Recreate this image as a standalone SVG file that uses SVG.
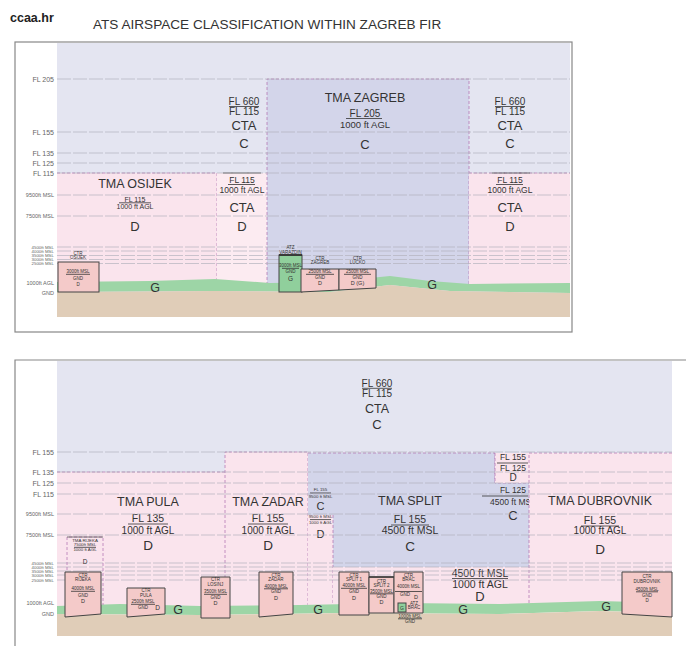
<svg xmlns="http://www.w3.org/2000/svg" width="686" height="646" viewBox="0 0 686 646">
<style>
text{font-family:"Liberation Sans",Arial,sans-serif;fill:#333;text-anchor:middle}
.ax{text-anchor:end;fill:#666}
.f4{font-size:4.5px}.f5{font-size:5.5px}.fs{font-size:4.4px}.f7{font-size:7px}.f8{font-size:8.5px}.f10{font-size:10px}.f105{font-size:10.5px}.f12{font-size:12.5px}.f13{font-size:13px}.f135{font-size:13.5px}
.grid{stroke:#b3b3bd;stroke-width:0.7;stroke-dasharray:14 2;fill:none}
.bd{fill:none;stroke:#b57ab5;stroke-width:0.8;stroke-dasharray:3 2}
.bar{stroke:#333;stroke-width:0.8}
.ctr{fill:#f4cac9;stroke:#444;stroke-width:1}
.atz{fill:#90cf9c;stroke:#444;stroke-width:1}
.lav{fill:#e4e5f1}.dlav{fill:#d3d5ea}.pink{fill:#fae4ed}.pink2{fill:#fcebf1}
.green{fill:#9dd5a6}.tan{fill:#e0cdb8}
</style>
<rect width="686" height="646" fill="#fff"/>
<text x="10" y="22" style="font-size:12.5px;font-weight:bold;text-anchor:start;fill:#222">ccaa.hr</text>
<text x="93" y="29" style="font-size:13.6px;text-anchor:start;fill:#333">ATS AIRSPACE CLASSIFICATION WITHIN ZAGREB FIR</text>

<!-- ===== TOP PANEL ===== -->
<g id="top-frame">
<rect x="15" y="42" width="557" height="290" fill="#fff" stroke="#888" stroke-width="1.2"/>
<rect x="57" y="43" width="513" height="250" class="lav"/>
</g>
<g id="tma-osijek">
<rect x="57" y="173" width="160" height="112" class="pink"/>
<path d="M57 173H217V285" class="bd"/>
<text x="135" y="187.5" class="f12">TMA OSIJEK</text>
<text x="135" y="201.5" class="f7">FL 115</text>
<line x1="119" y1="202.8" x2="151" y2="202.8" class="bar"/>
<text x="135" y="208.8" class="f7">1000 ft AGL</text>
<text x="135" y="231" class="f13">D</text>
</g>
<g id="cta-west-lower">
<rect x="217" y="173" width="50" height="112" class="pink2"/>
<line x1="223" y1="173" x2="261" y2="173" class="bar"/>
<text x="242" y="182.5" class="f8">FL 115</text>
<line x1="228" y1="184.5" x2="255" y2="184.5" class="bar"/>
<text x="242" y="193.3" class="f8">1000 ft AGL</text>
<text x="242" y="212" class="f13">CTA</text>
<text x="242" y="231" class="f13">D</text>
</g>
<g id="cta-west-upper">
<text x="244" y="104.5" class="f10">FL 660</text>
<line x1="229" y1="106.5" x2="259" y2="106.5" class="bar"/>
<text x="244" y="114.8" class="f10">FL 115</text>
<text x="244" y="130" class="f13">CTA</text>
<text x="244" y="148" class="f13">C</text>
</g>
<g id="tma-zagreb">
<rect x="267" y="79" width="202" height="206" class="dlav"/>
<path d="M267 285V79H469V285" class="bd"/>
<text x="365" y="101.5" class="f12">TMA ZAGREB</text>
<text x="365" y="116.5" class="f10">FL 205</text>
<line x1="346" y1="118.5" x2="382" y2="118.5" class="bar"/>
<text x="365" y="127.5" style="font-size:9.5px">1000 ft AGL</text>
<text x="365" y="148.5" class="f13">C</text>
</g>
<g id="cta-east-upper">
<text x="510" y="104.5" class="f10">FL 660</text>
<line x1="495" y1="106.5" x2="525" y2="106.5" class="bar"/>
<text x="510" y="114.8" class="f10">FL 115</text>
<text x="510" y="130" class="f13">CTA</text>
<text x="510" y="148" class="f13">C</text>
</g>
<g id="cta-east-lower">
<rect x="469" y="173" width="101" height="112" class="pink"/>
<path d="M469 173H570" class="bd"/>
<line x1="492" y1="173" x2="530" y2="173" class="bar"/>
<text x="510" y="182.5" class="f8">FL 115</text>
<line x1="496" y1="184.5" x2="523" y2="184.5" class="bar"/>
<text x="510" y="193.3" class="f8">1000 ft AGL</text>
<text x="510" y="212" class="f13">CTA</text>
<text x="510" y="231" class="f13">D</text>
</g>
<g id="top-grid">
<path class="grid" d="M57 79H570M57 132H570M57 153H570M57 163H570M57 173H570M57 195H570M57 216H570M57 247H570M57 251H570M57 255.5H570M57 259.5H570M57 263.5H570"/>
</g>
<g id="top-axis">
<text x="54" y="81.5" class="ax f7">FL 205</text>
<text x="54" y="134.5" class="ax f7">FL 155</text>
<text x="54" y="155.5" class="ax f7">FL 135</text>
<text x="54" y="165.5" class="ax f7">FL 125</text>
<text x="54" y="175.5" class="ax f7">FL 115</text>
<text x="54" y="197" class="ax f5">9500ft MSL</text>
<text x="54" y="218" class="ax f5">7500ft MSL</text>
<text x="54" y="248.5" class="ax fs">4500ft MSL</text>
<text x="54" y="252.6" class="ax fs">4000ft MSL</text>
<text x="54" y="256.8" class="ax fs">3500ft MSL</text>
<text x="54" y="261" class="ax fs">3000ft MSL</text>
<text x="54" y="265.2" class="ax fs">2500ft MSL</text>
<text x="54" y="285" class="ax f5">1000ft AGL</text>
<text x="54" y="295" class="ax f5">GND</text>
</g>
<g id="top-terrain">
<polygon class="green" points="57,282 150,281 215,279 270,283 330,282 390,276 430,281 470,284 570,283 570,293 450,291 390,285 330,292 215,291 57,292"/>
<polygon class="tan" points="57,292 215,291 330,292 390,285 450,291 570,293 570,317 57,317"/>
<text x="155" y="291.5" class="f12">G</text>
<text x="432" y="289" class="f12">G</text>
</g>
<g id="ctr-osijek">
<rect x="58" y="262" width="41" height="30" class="ctr"/>
<text x="78" y="254.5" class="f4">CTR</text>
<text x="78" y="259" class="f4">OSIJEK</text>
<text x="78" y="273" class="f4">3000ft MSL</text>
<line x1="66" y1="274.3" x2="90" y2="274.3" class="bar" stroke-width="0.6"/>
<text x="78" y="279.5" class="f4">GND</text>
<text x="78" y="286" class="f4">D</text>
</g>
<g id="atz-varazdin">
<rect x="279" y="255" width="23" height="37" class="atz"/>
<line x1="279" y1="255" x2="302" y2="255" stroke="#333" stroke-width="1.8"/>
<text x="290.5" y="249" class="f4">ATZ</text>
<text x="290.5" y="253.5" class="f4">VARAZDIN</text>
<text x="290.5" y="267" class="f4">3000ft MSL</text>
<line x1="282" y1="268.3" x2="299" y2="268.3" class="bar" stroke-width="0.6"/>
<text x="290.5" y="273" class="f4">GND</text>
<text x="290.5" y="281" style="font-size:6.5px">G</text>
</g>
<g id="ctr-zagreb">
<polygon class="ctr" points="301,269 339,269 339,290 301,292"/>
<text x="320" y="259.5" class="f4">CTR</text>
<text x="320" y="264" class="f4">ZAGREB</text>
<text x="320" y="273" class="f4">2500ft MSL</text>
<line x1="306" y1="274.3" x2="334" y2="274.3" class="bar" stroke-width="0.6"/>
<text x="320" y="279" class="f4">GND</text>
<text x="320" y="285" style="font-size:5.5px">D</text>
</g>
<g id="ctr-lucko">
<polygon class="ctr" points="339,269 376,269 376,288 339,290"/>
<text x="357.5" y="259.5" class="f4">CTR</text>
<text x="357.5" y="264" class="f4">LUCKO</text>
<text x="357.5" y="273" class="f4">2500ft MSL</text>
<line x1="344" y1="274.3" x2="371" y2="274.3" class="bar" stroke-width="0.6"/>
<text x="357.5" y="279" class="f4">GND</text>
<text x="357.5" y="285" style="font-size:5.5px">D (G)</text>
</g>

<!-- ===== BOTTOM PANEL ===== -->
<g id="bottom-frame">
<path d="M15 646V360H686" fill="none" stroke="#888" stroke-width="1.2"/>
<rect x="57" y="361" width="615" height="250" class="lav"/>
</g>
<g id="cta-upper">
<text x="377" y="386.5" class="f10">FL 660</text>
<line x1="362" y1="388.3" x2="392" y2="388.3" class="bar"/>
<text x="377" y="396.8" class="f10">FL 115</text>
<text x="377" y="412.5" class="f12">CTA</text>
<text x="377" y="428.5" class="f13">C</text>
</g>
<g id="tma-pula">
<rect x="57" y="472" width="168" height="136" class="pink"/>
<path d="M57 472H225" class="bd"/>
<text x="148" y="505.5" class="f12">TMA PULA</text>
<text x="148" y="521.5" class="f105">FL 135</text>
<line x1="128" y1="524" x2="168" y2="524" class="bar"/>
<text x="148" y="533.5" class="f10">1000 ft AGL</text>
<text x="148" y="550" class="f135">D</text>
</g>
<g id="tma-zadar">
<rect x="225" y="452" width="83" height="156" class="pink"/>
<path d="M225 608V452H308V608" class="bd"/>
<text x="268" y="505.5" class="f12">TMA ZADAR</text>
<text x="268" y="521.5" class="f105">FL 155</text>
<line x1="248" y1="524" x2="288" y2="524" class="bar"/>
<text x="268" y="533.5" class="f10">1000 ft AGL</text>
<text x="268" y="550" class="f135">D</text>
</g>
<g id="tma-split">
<path d="M308 453H495V483H529V567H333V515H308Z" class="dlav"/>
<path d="M308 453H495V483H529" class="bd"/>
<text x="410" y="504.5" class="f12">TMA SPLIT</text>
<text x="410" y="522.5" class="f105">FL 155</text>
<line x1="391" y1="525" x2="429" y2="525" class="bar"/>
<text x="410" y="533.5" class="f105">4500 ft MSL</text>
<text x="410" y="551" class="f135">C</text>
<text x="513" y="493" class="f8">FL 125</text>
<line x1="482" y1="496" x2="528" y2="496" class="bar"/>
<text x="513" y="505" class="f8">4500 ft MSL</text>
<text x="513" y="519.5" class="f13">C</text>
</g>
<g id="split-slice">
<rect x="308" y="515" width="25" height="93" class="pink"/>
<line x1="333" y1="515" x2="333" y2="608" class="bd"/>
<text x="320.5" y="491" class="fs">FL 155</text>
<line x1="310" y1="493" x2="331" y2="493" class="bar" stroke-width="0.6"/>
<text x="320.5" y="497.8" class="fs">9500 ft MSL</text>
<text x="320.5" y="509.5" style="font-size:11px">C</text>
<text x="320.5" y="518.3" class="fs">9500 ft MSL</text>
<line x1="310" y1="519.6" x2="331" y2="519.6" class="bar" stroke-width="0.6"/>
<text x="320.5" y="524.3" class="fs">1000 ft AGL</text>
<text x="320.5" y="538" style="font-size:11px">D</text>
</g>
<g id="split-lower">
<rect x="333" y="567" width="196" height="41" class="pink"/>
<text x="480" y="576.5" class="f105">4500 ft MSL</text>
<line x1="452" y1="578.5" x2="508" y2="578.5" class="bar"/>
<text x="480" y="587.5" class="f105">1000 ft AGL</text>
<text x="480" y="600.5" class="f13">D</text>
</g>
<g id="split-east-upper">
<rect x="495" y="453" width="34" height="30" class="pink"/>
<line x1="495" y1="453" x2="495" y2="483" class="bd"/>
<text x="513" y="460" class="f8">FL 155</text>
<line x1="497" y1="463" x2="528" y2="463" class="bar"/>
<text x="513" y="471" class="f8">FL 125</text>
<text x="513" y="480.5" class="f10">D</text>
</g>
<g id="tma-dubrovnik">
<rect x="529" y="453" width="143" height="155" class="pink"/>
<path d="M529 608V453H672" class="bd"/>
<text x="600" y="504.5" class="f12" textLength="104">TMA DUBROVNIK</text>
<text x="600" y="523.5" class="f105">FL 155</text>
<line x1="581" y1="526" x2="619" y2="526" class="bar"/>
<text x="600" y="533.5" class="f10">1000 ft AGL</text>
<text x="600" y="553.5" class="f135">D</text>
</g>
<g id="bottom-grid">
<path class="grid" d="M57 452H672M57 472H672M57 483H672M57 494H672M57 514H672M57 535H672M57 563H672M57 567H672M57 571H672M57 575H672M57 580H672"/>
</g>
<g id="bottom-axis">
<text x="54" y="454.5" class="ax f7">FL 155</text>
<text x="54" y="474.5" class="ax f7">FL 135</text>
<text x="54" y="485.5" class="ax f7">FL 125</text>
<text x="54" y="496.5" class="ax f7">FL 115</text>
<text x="54" y="516" class="ax f5">9500ft MSL</text>
<text x="54" y="537" class="ax f5">7500ft MSL</text>
<text x="54" y="564.5" class="ax fs">4500ft MSL</text>
<text x="54" y="568.7" class="ax fs">4000ft MSL</text>
<text x="54" y="572.9" class="ax fs">3500ft MSL</text>
<text x="54" y="577.1" class="ax fs">3000ft MSL</text>
<text x="54" y="581.5" class="ax fs">2500ft MSL</text>
<text x="54" y="605" class="ax f5">1000ft AGL</text>
<text x="54" y="616" class="ax f5">GND</text>
</g>
<g id="bottom-terrain">
<polygon class="green" points="57,606 120,604 200,606 300,605 400,603 500,604 600,601 672,603 672,613 600,611 500,614 350,613 200,615 57,614"/>
<polygon class="tan" points="57,614 200,615 350,613 500,614 600,611 672,613 672,636 57,636"/>
<text x="178" y="614" class="f12">G</text>
<text x="318" y="614" class="f12">G</text>
<text x="463" y="614" class="f12">G</text>
<text x="606" y="611" class="f12">G</text>
</g>
<g id="tma-rijeka">
<path d="M67 605V537H103V605" class="bd" stroke="#777"/>
<line x1="67" y1="537" x2="103" y2="537" stroke="#555" stroke-width="0.8"/>
<text x="85" y="541.5" class="fs">TMA RIJEKA</text>
<text x="85" y="546.2" class="fs">7500ft MSL</text>
<line x1="74" y1="547.3" x2="96" y2="547.3" class="bar" stroke-width="0.6"/>
<text x="85" y="551" class="fs">1000 ft AGL</text>
<text x="85" y="564" style="font-size:6.5px">D</text>
</g>
<g id="ctr-rijeka">
<polygon class="ctr" points="65,572 101,572 101,614 65,617"/>
<text x="83" y="576.5" class="f4">CTR</text>
<text x="83" y="581" class="f4">RIJEKA</text>
<text x="83" y="590" class="f4">4000ft MSL</text>
<line x1="71" y1="591.3" x2="95" y2="591.3" class="bar" stroke-width="0.6"/>
<text x="83" y="596.5" class="f4">GND</text>
<text x="83" y="603" style="font-size:5.5px">D</text>
</g>
<g id="ctr-pula">
<polygon class="ctr" points="127,588 165,588 165,614 127,617"/>
<text x="146" y="592" class="f4">CTR</text>
<text x="146" y="596.5" class="f4">PULA</text>
<text x="143" y="603" class="f4">2500ft MSL</text>
<line x1="131" y1="604.3" x2="155" y2="604.3" class="bar" stroke-width="0.6"/>
<text x="143" y="609" class="f4">GND</text>
<text x="157.5" y="610" style="font-size:6.5px">D</text>
</g>
<g id="ctr-losinj">
<polygon class="ctr" points="201,577 230,577 230,618 201,618"/>
<text x="215.5" y="581" class="f4">CTR</text>
<text x="215.5" y="585.5" class="f4">LOSINJ</text>
<text x="215.5" y="593" class="f4">3500ft MSL</text>
<line x1="204" y1="594.3" x2="227" y2="594.3" class="bar" stroke-width="0.6"/>
<text x="215.5" y="599" class="f4">GND</text>
<text x="215.5" y="605" style="font-size:5.5px">D</text>
</g>
<g id="ctr-zadar">
<polygon class="ctr" points="259,572 293,572 293,614 259,617"/>
<text x="276" y="576.5" class="f4">CTR</text>
<text x="276" y="581" class="f4">ZADAR</text>
<text x="276" y="587.5" class="f4">4000ft MSL</text>
<line x1="264" y1="588.8" x2="288" y2="588.8" class="bar" stroke-width="0.6"/>
<text x="276" y="593" class="f4">GND</text>
<text x="276" y="599.5" style="font-size:5.5px">D</text>
</g>
<g id="ctr-split-1">
<polygon class="ctr" points="339,572 369,572 369,615 339,615"/>
<text x="354" y="576.5" class="f4">CTR</text>
<text x="354" y="581" class="f4">SPLIT 1</text>
<text x="354" y="587" class="f4">4000ft MSL</text>
<line x1="341" y1="588.3" x2="367" y2="588.3" class="bar" stroke-width="0.6"/>
<text x="354" y="593" class="f4">GND</text>
<text x="354" y="599.5" style="font-size:5.5px">D</text>
</g>
<g id="ctr-split-2">
<polygon class="ctr" points="369,577 394,577 394,613 369,613"/>
<line x1="369" y1="577" x2="394" y2="577" stroke="#333" stroke-width="1.4"/>
<text x="381.5" y="582.5" class="f4">CTR</text>
<text x="381.5" y="587" class="f4">SPLIT 2</text>
<text x="381.5" y="592.5" class="f4">3500ft MSL</text>
<line x1="370" y1="593.8" x2="393" y2="593.8" class="bar" stroke-width="0.6"/>
<text x="381.5" y="598" class="f4">GND</text>
<text x="381.5" y="604" style="font-size:5.5px">D</text>
</g>
<g id="ctr-brac">
<polygon class="ctr" points="394,572 423,572 423,613 394,613"/>
<text x="408.5" y="576.5" class="f4">CTR</text>
<text x="408.5" y="581" class="f4">BRAC</text>
<text x="408.5" y="587.5" class="f4">4000ft MSL</text>
<line x1="395" y1="591.5" x2="422" y2="591.5" class="bar" stroke-width="0.8"/>
<text x="405" y="596" class="f4">GND</text>
<text x="416" y="598.5" style="font-size:5.5px">D</text>
</g>
<g id="atz-brac">
<rect x="398" y="603" width="8" height="9" class="atz"/>
<text x="402" y="610" style="font-size:5px">G</text>
<text x="414" y="605" class="f4">ATZ</text>
<text x="414" y="609" class="f4">BRAC</text>
<text x="410" y="617.5" class="f4">1000ft MSL</text>
<line x1="398" y1="618.8" x2="422" y2="618.8" class="bar" stroke-width="0.6"/>
<text x="410" y="623" class="f4">GND</text>
</g>
<g id="ctr-dubrovnik">
<polygon class="ctr" points="622,572 672,572 672,617 622,614"/>
<text x="647" y="578" class="f4">CTR</text>
<text x="647" y="583" class="f4">DUBROVNIK</text>
<text x="647" y="590.5" class="f4">4500ft MSL</text>
<line x1="636" y1="591.8" x2="658" y2="591.8" class="bar" stroke-width="0.6"/>
<text x="647" y="596.5" class="f4">GND</text>
<text x="647" y="602" class="f4">D</text>
</g>
<g id="connectors"></g>
</svg>
